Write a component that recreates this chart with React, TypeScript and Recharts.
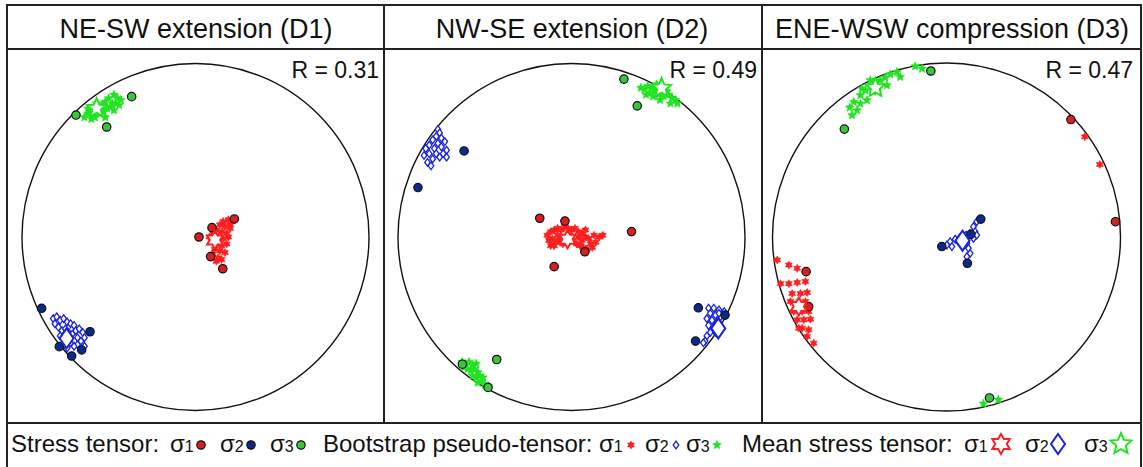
import React from "react"
import { ScatterChart, Scatter, XAxis, YAxis, ReferenceDot } from "recharts"

type Pt = [number, number]

const titles = ["NE-SW extension (D1)", "NW-SE extension (D2)", "ENE-WSW compression (D3)"]
const ratios = ["R = 0.31", "R = 0.49", "R = 0.47"]

// positions on the net, x east / y north, in units of the net radius

// D1
const d1Sigma1: Pt[] = [[0.224, 0.104], [0.095, 0.054], [0.02, 0.0], [0.087, -0.113], [0.157, -0.183]]
const d1Sigma2: Pt[] = [[-0.887, -0.411], [-0.608, -0.546], [-0.785, -0.632], [-0.656, -0.651], [-0.714, -0.686]]
const d1Sigma3: Pt[] = [[-0.368, 0.809], [-0.689, 0.703], [-0.512, 0.634]]
const d1Boot1: Pt[] = [
  [0.16, 0.09], [0.19, 0.1], [0.21, 0.09], [0.14, 0.07], [0.17, 0.06], [0.2, 0.05], [0.12, 0.04],
  [0.15, 0.03], [0.18, 0.02], [0.1, 0.02], [0.13, 0.0], [0.16, -0.01], [0.19, 0.0], [0.09, -0.02],
  [0.12, -0.04], [0.15, -0.05], [0.18, -0.04], [0.11, -0.07], [0.14, -0.08], [0.17, -0.09],
  [0.1, -0.1], [0.13, -0.12], [0.15, -0.13], [0.12, -0.14], [0.2, 0.07], [0.08, 0.0],
]
const d1Boot2: Pt[] = [
  [-0.82, -0.47], [-0.8, -0.46], [-0.78, -0.48], [-0.76, -0.47], [-0.74, -0.49], [-0.72, -0.5],
  [-0.7, -0.51], [-0.81, -0.5], [-0.79, -0.52], [-0.77, -0.54], [-0.75, -0.53], [-0.73, -0.55],
  [-0.71, -0.56], [-0.69, -0.54], [-0.67, -0.53], [-0.65, -0.55], [-0.64, -0.58], [-0.66, -0.6],
  [-0.68, -0.62], [-0.7, -0.63], [-0.72, -0.61], [-0.76, -0.58], [-0.78, -0.57], [-0.74, -0.64],
  [-0.64, -0.63], [-0.68, -0.58],
]
const d1Boot3: Pt[] = [
  [-0.45, 0.8], [-0.43, 0.79], [-0.47, 0.82], [-0.5, 0.8], [-0.48, 0.77], [-0.52, 0.78], [-0.54, 0.76],
  [-0.51, 0.74], [-0.56, 0.74], [-0.58, 0.72], [-0.6, 0.73], [-0.62, 0.71], [-0.64, 0.69], [-0.55, 0.71],
  [-0.58, 0.69], [-0.53, 0.72], [-0.49, 0.75], [-0.46, 0.77], [-0.44, 0.76], [-0.6, 0.68], [-0.57, 0.77],
  [-0.62, 0.74], [-0.52, 0.69], [-0.47, 0.73],
]
const d1Mean: Pt[] = [[0.112, -0.017], [-0.743, -0.584], [-0.57, 0.742]]

// D2
const d2Sigma1: Pt[] = [[-0.183, 0.108], [-0.038, 0.092], [0.346, 0.031], [-0.1, -0.171], [0.077, -0.085]]
const d2Sigma2: Pt[] = [[-0.619, 0.496], [-0.885, 0.285], [0.731, -0.408], [0.715, -0.6], [0.885, -0.45]]
const d2Sigma3: Pt[] = [[0.302, 0.91], [0.379, 0.756], [-0.629, -0.733], [-0.431, -0.706], [-0.481, -0.867]]
const d2Boot1: Pt[] = [
  [-0.14, 0.01], [-0.12, 0.03], [-0.1, 0.04], [-0.08, 0.05], [-0.06, 0.04], [-0.04, 0.06], [-0.02, 0.05],
  [0.0, 0.04], [0.02, 0.05], [0.04, 0.03], [0.06, 0.02], [0.08, 0.0], [0.1, -0.01], [0.13, 0.01],
  [0.16, 0.0], [0.18, 0.01], [-0.13, -0.02], [-0.11, -0.01], [-0.09, -0.03], [-0.07, -0.02],
  [-0.05, -0.04], [-0.03, -0.03], [0.01, -0.02], [0.03, -0.04], [0.05, -0.05], [0.07, -0.06],
  [0.09, -0.07], [-0.08, 0.01], [-0.12, -0.05], [0.04, 0.0], [0.11, -0.04], [-0.01, 0.01],
  [-0.06, 0.0], [0.06, -0.02], [0.12, -0.06], [-0.1, -0.05], [0.14, -0.03], [0.08, 0.04],
]
const d2Boot2: Pt[] = [
  [-0.77, 0.62], [-0.76, 0.6], [-0.78, 0.58], [-0.8, 0.56], [-0.75, 0.57], [-0.73, 0.55], [-0.77, 0.54],
  [-0.82, 0.53], [-0.84, 0.51], [-0.79, 0.51], [-0.75, 0.52], [-0.72, 0.5], [-0.74, 0.48], [-0.78, 0.48],
  [-0.82, 0.48], [-0.85, 0.47], [-0.8, 0.45], [-0.76, 0.46], [-0.72, 0.46], [-0.83, 0.43], [-0.81, 0.41],
  [0.79, -0.41], [0.82, -0.41], [0.85, -0.42], [0.88, -0.43], [0.8, -0.44], [0.83, -0.45], [0.86, -0.46],
  [0.78, -0.47], [0.81, -0.48], [0.84, -0.49], [0.79, -0.51], [0.82, -0.52], [0.8, -0.55], [0.78, -0.57],
  [0.77, -0.6], [0.76, -0.61], [0.85, -0.44], [0.83, -0.55],
]
const d2Boot3: Pt[] = [
  [0.4, 0.86], [0.42, 0.85], [0.44, 0.87], [0.46, 0.86], [0.48, 0.84], [0.45, 0.83], [0.5, 0.85],
  [0.47, 0.81], [0.5, 0.82], [0.53, 0.81], [0.56, 0.82], [0.58, 0.8], [0.6, 0.79], [0.55, 0.84],
  [0.52, 0.87], [0.49, 0.88], [0.43, 0.82], [0.51, 0.79], [0.57, 0.77], [0.61, 0.77],
  [-0.63, -0.72], [-0.61, -0.73], [-0.59, -0.72], [-0.57, -0.74], [-0.6, -0.76], [-0.58, -0.77],
  [-0.56, -0.76], [-0.54, -0.78], [-0.57, -0.8], [-0.55, -0.81], [-0.53, -0.8], [-0.52, -0.83],
  [-0.54, -0.84], [-0.5, -0.85], [-0.48, -0.86], [-0.62, -0.75], [-0.55, -0.73], [-0.51, -0.81],
]
const d2Mean: Pt[] = [[-0.023, -0.013], [0.846, -0.527], [0.519, 0.858]]

// D3
const d3Sigma1: Pt[] = [[0.715, 0.675], [0.971, 0.088], [-0.807, -0.199], [-0.792, -0.4]]
const d3Sigma2: Pt[] = [[0.197, 0.103], [-0.027, -0.055], [0.12, -0.151], [0.14, 0.015]]
const d3Sigma3: Pt[] = [[-0.09, 0.954], [-0.587, 0.62], [0.247, -0.925]]
const d3Boot1: Pt[] = [
  [-0.973, -0.132], [-0.906, -0.161], [-0.858, -0.18], [-0.954, -0.268], [-0.906, -0.268],
  [-0.858, -0.262], [-0.811, -0.256], [-0.887, -0.325], [-0.839, -0.325], [-0.801, -0.319],
  [-0.897, -0.371], [-0.858, -0.38], [-0.811, -0.371], [-0.878, -0.428], [-0.83, -0.428],
  [-0.792, -0.428], [-0.858, -0.476], [-0.82, -0.476], [-0.782, -0.472], [-0.83, -0.524],
  [-0.792, -0.533], [-0.801, -0.572], [-0.763, -0.61], [-0.849, -0.524], [0.795, 0.576], [0.881, 0.417],
]
const d3Boot2: Pt[] = [
  [0.174, 0.088], [0.155, 0.059], [0.164, 0.031], [0.136, 0.021], [0.113, 0.011], [0.078, -0.002],
  [0.05, -0.013], [0.021, -0.027], [0.002, -0.046], [0.031, -0.055], [0.117, -0.036], [0.126, -0.065],
  [0.136, -0.094], [0.117, -0.113], [0.155, -0.008], [0.174, 0.011], [0.069, -0.027], [0.088, -0.046],
]
const d3Boot3: Pt[] = [
  [-0.18, 0.981], [-0.141, 0.967], [-0.285, 0.948], [-0.323, 0.935], [-0.352, 0.916], [-0.381, 0.901],
  [-0.409, 0.891], [-0.438, 0.862], [-0.467, 0.843], [-0.495, 0.815], [-0.533, 0.776], [-0.495, 0.767],
  [-0.457, 0.786], [-0.514, 0.728], [-0.543, 0.7], [-0.419, 0.834], [-0.39, 0.858], [-0.342, 0.872],
  [-0.438, 0.901], [-0.486, 0.853], [-0.266, 0.92], [-0.556, 0.744], [0.212, -0.958], [0.298, -0.935],
]
const d3Mean: Pt[] = [[-0.849, -0.4], [0.092, -0.021], [-0.409, 0.858]]

const RED = "#ff1f1f"
const BLUE = "#1a22e0"
const GREEN = "#22e322"
const DOT = ["#d81e1e", "#0c2a8c", "#39c739"]

const TOP = 49
const H = 374

const panels = [
  { left: 7, width: 377, cx: 195.5, cy: 237, r: 173.5, s: [d1Sigma1, d1Sigma2, d1Sigma3], b: [d1Boot1, d1Boot2, d1Boot3], m: d1Mean },
  { left: 384, width: 378, cx: 571.5, cy: 237, r: 173.5, s: [d2Sigma1, d2Sigma2, d2Sigma3], b: [d2Boot1, d2Boot2, d2Boot3], m: d2Mean },
  { left: 762, width: 379, cx: 946.5, cy: 237, r: 174, s: [d3Sigma1, d3Sigma2, d3Sigma3], b: [d3Boot1, d3Boot2, d3Boot3], m: d3Mean },
]

const toRows = (a: Pt[]) => a.map(([x, y]) => ({ x, y }))

const starPts = (cx: number, cy: number, n: number, ro: number, ri: number) => {
  const out: string[] = []
  for (let k = 0; k < n * 2; k++) {
    const a = (-90 + (k * 180) / n) * (Math.PI / 180)
    const rr = k % 2 === 0 ? ro : ri
    out.push(`${(cx + rr * Math.cos(a)).toFixed(2)},${(cy + rr * Math.sin(a)).toFixed(2)}`)
  }
  return out.join(" ")
}

const Hexa = ({ cx, cy, r, fill, stroke, sw }: any) => (
  <polygon points={starPts(cx, cy, 6, r, r / Math.sqrt(3))} fill={fill} stroke={stroke} strokeWidth={sw} />
)
const Star = ({ cx, cy, r, fill, stroke, sw }: any) => (
  <polygon points={starPts(cx, cy, 5, r, r * 0.46)} fill={fill} stroke={stroke} strokeWidth={sw} />
)
const Diamond = ({ cx, cy, w, h, fill, stroke, sw }: any) => (
  <path d={`M${cx},${cy - h}L${cx + w},${cy}L${cx},${cy + h}L${cx - w},${cy}Z`} fill={fill} stroke={stroke} strokeWidth={sw} />
)
const Dot = ({ cx, cy, fill }: any) => <circle cx={cx} cy={cy} r={4.2} fill={fill} stroke="#111" strokeWidth={1.2} />

const bootShape = [
  (p: any) => <Hexa cx={p.cx} cy={p.cy} r={4} fill={RED} stroke={RED} sw={0.6} />,
  (p: any) => <Diamond cx={p.cx} cy={p.cy} w={2.8} h={3.8} fill="#fff" stroke={BLUE} sw={1.3} />,
  (p: any) => <Star cx={p.cx} cy={p.cy} r={4.6} fill={GREEN} stroke={GREEN} sw={0.6} />,
]
const meanShape = [
  (p: any) => <Hexa cx={p.cx} cy={p.cy} r={9} fill="#fff" stroke={RED} sw={2} />,
  (p: any) => <Diamond cx={p.cx} cy={p.cy} w={7} h={10} fill="#fff" stroke={BLUE} sw={2} />,
  (p: any) => <Star cx={p.cx} cy={p.cy} r={10} fill="#fff" stroke={GREEN} sw={2} />,
]

const Net = ({ p }: any) => {
  const margin = {
    left: p.cx - p.r - p.left,
    right: p.left + p.width - p.cx - p.r,
    top: p.cy - p.r - TOP,
    bottom: TOP + H - p.cy - p.r,
  }
  return (
    <div style={{ position: "absolute", left: p.left, top: TOP }}>
      <ScatterChart width={p.width} height={H} margin={margin}>
        <XAxis type="number" dataKey="x" domain={[-1, 1]} hide />
        <YAxis type="number" dataKey="y" domain={[-1, 1]} hide />
        <ReferenceDot x={0} y={0} r={p.r} fill="none" stroke="#111" strokeWidth={1.4} />
        {p.b.map((d: Pt[], i: number) => (
          <Scatter key={"b" + i} data={toRows(d)} shape={bootShape[i]} isAnimationActive={false} />
        ))}
        {p.s.map((d: Pt[], i: number) => (
          <Scatter key={"s" + i} data={toRows(d)} shape={(q: any) => <Dot cx={q.cx} cy={q.cy} fill={DOT[i]} />} isAnimationActive={false} />
        ))}
        {p.m.map((pt: Pt, i: number) => (
          <Scatter key={"m" + i} data={toRows([pt])} shape={meanShape[i]} isAnimationActive={false} />
        ))}
      </ScatterChart>
    </div>
  )
}

const Sig = ({ x, y, n }: any) => (
  <text x={x} y={y} fontSize={24}>
    σ<tspan fontSize={16}>{n}</tspan>
  </text>
)

const FONT = "'Liberation Sans', Arial, sans-serif"

export default function App() {
  const ly = 452
  const sy = 445
  return (
    <div style={{ position: "absolute", left: 0, top: 0, width: 1143, height: 467, background: "#fff", fontFamily: FONT }}>
      {panels.map((p, i) => (
        <Net key={i} p={p} />
      ))}
      <svg width={1143} height={467} style={{ position: "absolute", left: 0, top: 0, pointerEvents: "none" }} fontFamily={FONT} fill="#111">
        <rect x={7} y={5} width={1134} height={480} fill="none" stroke="#222" strokeWidth={2} />
        <line x1={7} y1={49} x2={1141} y2={49} stroke="#222" strokeWidth={2} />
        <line x1={7} y1={423} x2={1141} y2={423} stroke="#222" strokeWidth={2} />
        <line x1={384} y1={5} x2={384} y2={423} stroke="#222" strokeWidth={2} />
        <line x1={762} y1={5} x2={762} y2={423} stroke="#222" strokeWidth={2} />
        {titles.map((t, i) => (
          <text key={t} x={[196, 572, 952][i]} y={38} fontSize={27} textAnchor="middle">
            {t}
          </text>
        ))}
        {ratios.map((t, i) => (
          <text key={t} x={[379, 757, 1133][i]} y={78} fontSize={23} textAnchor="end">
            {t}
          </text>
        ))}
        <text x={11} y={ly} fontSize={24}>Stress tensor:</text>
        <Sig x={170} y={ly} n={1} />
        <Dot cx={201} cy={sy} fill={DOT[0]} />
        <Sig x={220} y={ly} n={2} />
        <Dot cx={251} cy={sy} fill={DOT[1]} />
        <Sig x={270} y={ly} n={3} />
        <Dot cx={301} cy={sy} fill={DOT[2]} />
        <Text x={323} y={ly} t="Bootstrap pseudo-tensor:" />
        <Sig x={599} y={ly} n={1} />
        <Hexa cx={631} cy={sy} r={4} fill={RED} stroke={RED} sw={0.6} />
        <Sig x={645} y={ly} n={2} />
        <Diamond cx={676} cy={sy} w={2.8} h={3.8} fill="#fff" stroke={BLUE} sw={1.3} />
        <Sig x={686} y={ly} n={3} />
        <Star cx={717} cy={sy} r={4.6} fill={GREEN} stroke={GREEN} sw={0.6} />
        <Text x={742} y={ly} t="Mean stress tensor:" />
        <Sig x={964} y={ly} n={1} />
        <Hexa cx={1001} cy={sy - 1} r={10} fill="#fff" stroke={RED} sw={2} />
        <Sig x={1025} y={ly} n={2} />
        <Diamond cx={1058} cy={sy - 1} w={7} h={10} fill="#fff" stroke={BLUE} sw={2} />
        <Sig x={1084} y={ly} n={3} />
        <Star cx={1121} cy={sy - 1} r={11} fill="#fff" stroke={GREEN} sw={2} />
      </svg>
    </div>
  )
}

const Text = ({ x, y, t }: any) => (
  <text x={x} y={y} fontSize={24}>
    {t}
  </text>
)
